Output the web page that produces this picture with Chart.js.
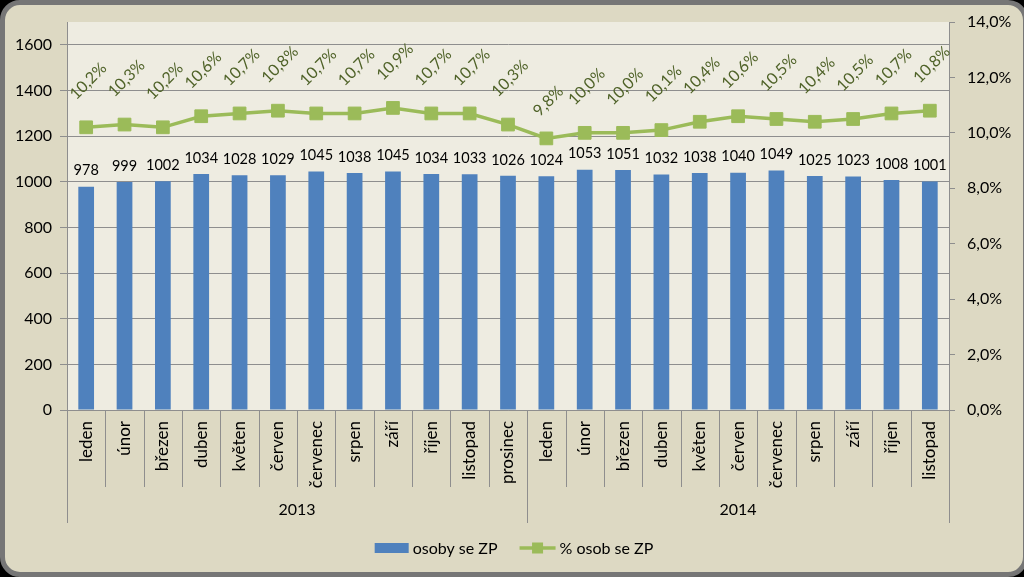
<!DOCTYPE html>
<html>
<head>
<meta charset="utf-8">
<script src="https://cdn.jsdelivr.net/npm/chart.js@4.4.1/dist/chart.umd.min.js"></script>
<style>
    html, body { margin: 0; padding: 0; background: #000; overflow: hidden; width: 1024px; height: 577px; }
    #frame {
        position: absolute; left: 0; top: 0; width: 1028px; height: 577px;
        box-sizing: border-box; border: 5px solid #767676; border-radius: 20px; background: #ddd9c3;
    }
    #chart { position: absolute; left: 0; top: 0; }
</style>
</head>
<body>
<div id="frame"></div>
<canvas id="chart" width="1024" height="577"></canvas>
<script>
// Months per year (bottom axis, two levels)
const months2013 = ['leden', 'únor', 'březen', 'duben', 'květen', 'červen', 'červenec', 'srpen', 'září', 'říjen', 'listopad', 'prosinec'];
const months2014 = ['leden', 'únor', 'březen', 'duben', 'květen', 'červen', 'červenec', 'srpen', 'září', 'říjen', 'listopad'];
const years = ['2013', '2014'];

// Series
const osobyZP = [978, 999, 1002, 1034, 1028, 1029, 1045, 1038, 1045, 1034, 1033, 1026,
                 1024, 1053, 1051, 1032, 1038, 1040, 1049, 1025, 1023, 1008, 1001];
const procentoZP = [10.2, 10.3, 10.2, 10.6, 10.7, 10.8, 10.7, 10.7, 10.9, 10.7, 10.7, 10.3,
                    9.8, 10.0, 10.0, 10.1, 10.4, 10.6, 10.5, 10.4, 10.5, 10.7, 10.8];

const seriesNames = ['osoby se ZP', '% osob se ZP'];

const categories = months2013.concat(months2014);
const yearGroups = [months2013.length, months2014.length];

const barColor = '#4f81bd';
const lineColor = '#9bbb59';
const lineLabelColor = '#4f6228';
const gridGray = '#8e8e8e';
const fontFamily = 'Lato, "Open Sans", sans-serif';

function pct(v) {
    return v.toFixed(1).replace('.', ',') + '%';
}

const decorPlugin = {
    id: 'decor',
    beforeDraw(chart) {
        const { ctx, chartArea: a } = chart;
        ctx.save();
        ctx.fillStyle = '#eeece1';
        ctx.fillRect(a.left, a.top, a.right - a.left, a.bottom - a.top);
        ctx.restore();
    },
    afterDatasetsDraw(chart) {
        const ctx = chart.ctx;
        ctx.save();
        ctx.textAlign = 'center';
        ctx.textBaseline = 'middle';

        // bar values above bars
        ctx.font = '14.5px ' + fontFamily;
        ctx.fillStyle = '#000';
        chart.getDatasetMeta(0).data.forEach((bar, i) => {
            ctx.fillText(String(osobyZP[i]), bar.x, bar.y - 16);
        });

        // rotated percentages above line points
        ctx.font = '16px ' + fontFamily;
        ctx.fillStyle = lineLabelColor;
        chart.getDatasetMeta(1).data.forEach((pt, i) => {
            const txt = pct(procentoZP[i]);
            const w = ctx.measureText(txt).width;
            ctx.save();
            ctx.translate(pt.x + 2, pt.y - w * 0.95 - 4);
            ctx.rotate(-Math.PI / 4);
            ctx.fillText(txt, 0, 0);
            ctx.restore();
        });
        ctx.restore();
    },
    afterDraw(chart) {
        const { ctx, chartArea: a } = chart;
        const n = categories.length;
        const step = (a.right - a.left) / n;
        ctx.save();
        ctx.strokeStyle = gridGray;
        ctx.lineWidth = 1;

        // month separators under the axis
        ctx.beginPath();
        for (let i = 1; i < n; i++) {
            const px = Math.round(a.left + i * step) + 0.5;
            ctx.moveTo(px, a.bottom);
            ctx.lineTo(px, a.bottom + 77);
        }
        ctx.stroke();

        // year separators (longer)
        let idx = 0;
        const bounds = [0];
        yearGroups.forEach(g => { idx += g; bounds.push(idx); });
        ctx.beginPath();
        bounds.forEach(b => {
            const px = Math.round(a.left + b * step) + 0.5;
            ctx.moveTo(px, a.bottom);
            ctx.lineTo(px, a.bottom + 113);
        });
        ctx.stroke();

        // year labels
        ctx.fillStyle = '#000';
        ctx.font = '16px ' + fontFamily;
        ctx.textAlign = 'center';
        ctx.textBaseline = 'middle';
        years.forEach((y, i) => {
            const cx = a.left + (bounds[i] + bounds[i + 1]) / 2 * step;
            ctx.fillText(y, cx, a.bottom + 100);
        });

        // legend
        ctx.font = '16px ' + fontFamily;
        ctx.textAlign = 'left';
        const t1 = ctx.measureText(seriesNames[0]).width;
        const t2 = ctx.measureText(seriesNames[1]).width;
        const total = 34 + 4 + t1 + 22 + 36 + 4 + t2;
        let lx = 514 - total / 2;
        const ly = 548;
        ctx.fillStyle = barColor;
        ctx.fillRect(lx, ly - 5, 34, 10);
        lx += 38;
        ctx.fillStyle = '#000';
        ctx.fillText(seriesNames[0], lx, ly + 1);
        lx += t1 + 22;
        ctx.strokeStyle = lineColor;
        ctx.lineWidth = 3.5;
        ctx.beginPath();
        ctx.moveTo(lx, ly);
        ctx.lineTo(lx + 36, ly);
        ctx.stroke();
        ctx.fillStyle = lineColor;
        ctx.fillRect(lx + 18 - 5.5, ly - 5.5, 11, 11);
        lx += 40;
        ctx.fillStyle = '#000';
        ctx.fillText(seriesNames[1], lx, ly + 1);
        ctx.restore();
    }
};

const chart = new Chart(document.getElementById('chart'), {
    data: {
        labels: categories,
        datasets: [{
            type: 'bar',
            label: seriesNames[0],
            data: osobyZP,
            yAxisID: 'y',
            backgroundColor: barColor,
            categoryPercentage: 1,
            barPercentage: 0.41,
            order: 1
        }, {
            type: 'line',
            label: seriesNames[1],
            data: procentoZP,
            yAxisID: 'y1',
            borderColor: lineColor,
            backgroundColor: lineColor,
            borderWidth: 3.5,
            pointStyle: 'rect',
            pointRadius: 9,
            pointBorderWidth: 1,
            pointBorderColor: lineColor,
            pointBackgroundColor: lineColor,
            tension: 0,
            order: 0
        }]
    },
    options: {
        responsive: false,
        animation: false,
        layout: { padding: { top: 22, left: 0, right: 0, bottom: 0 } },
        plugins: {
            legend: { display: false },
            tooltip: { enabled: false }
        },
        scales: {
            x: {
                type: 'category',
                offset: true,
                grid: { display: false, drawTicks: false },
                border: { display: true, color: gridGray },
                ticks: {
                    autoSkip: false,
                    maxRotation: 90,
                    minRotation: 90,
                    padding: 11,
                    color: '#000',
                    font: { family: fontFamily, size: 17 }
                },
                afterFit(scale) { scale.height = 167; }
            },
            y: {
                position: 'left',
                min: 0,
                max: 1700,
                grid: { color: gridGray, tickLength: 7 },
                border: { color: gridGray },
                ticks: {
                    stepSize: 200,
                    includeBounds: false,
                    padding: 8,
                    color: '#000',
                    font: { family: fontFamily, size: 16 },
                    callback: v => String(v)
                },
                afterFit(scale) { scale.width = 67; }
            },
            y1: {
                position: 'right',
                min: 0,
                max: 14,
                grid: { drawOnChartArea: false, color: gridGray, tickLength: 6 },
                border: { color: gridGray },
                ticks: {
                    stepSize: 2,
                    padding: 12,
                    color: '#000',
                    font: { family: fontFamily, size: 16 },
                    callback: v => pct(v)
                },
                afterFit(scale) { scale.width = 75; }
            }
        }
    },
    plugins: [decorPlugin]
});
</script>
</body>
</html>
